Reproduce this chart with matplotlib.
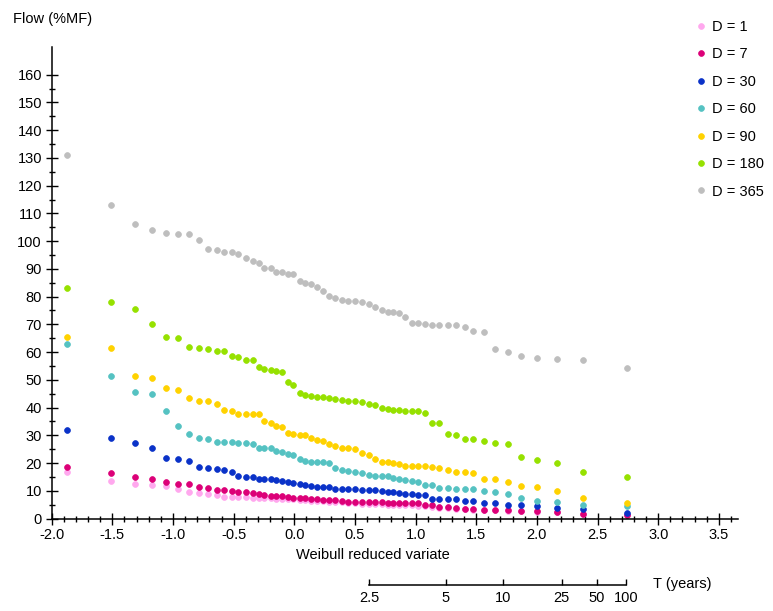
import numpy as np
import matplotlib
matplotlib.use('Agg')
import matplotlib.pyplot as plt
from matplotlib.ticker import FixedLocator

plt.rcParams['font.family'] = ['Liberation Sans', 'DejaVu Sans']
plt.rcParams['font.size'] = 10.5

# Weibull reduced variate of each ranked year (same plotting positions for all durations)
variate = [-1.874, -1.515, -1.317, -1.176, -1.058, -0.955, -0.864, -0.783, -0.709, -0.641,
           -0.577, -0.516, -0.460, -0.398, -0.343, -0.295, -0.247, -0.196, -0.148, -0.101,
           -0.056, -0.011, 0.043, 0.088, 0.135, 0.185, 0.239, 0.286, 0.336, 0.391,
           0.445, 0.500, 0.556, 0.612, 0.667, 0.719, 0.770, 0.816, 0.866, 0.913,
           0.968, 1.017, 1.078, 1.139, 1.197, 1.267, 1.337, 1.407, 1.477, 1.564,
           1.655, 1.758, 1.865, 1.997, 2.162, 2.383, 2.740]

# flow as % of mean flow, one list per duration D (days)
flow_d1 = [16.8, 13.6, 12.6, 12.1, 11.7, 10.5, 9.4, 9.1, 8.8, 8.3,
           7.9, 7.8, 7.7, 7.6, 7.5, 7.4, 7.3, 7.3, 7.2, 7.1,
           7.0, 6.9, 6.8, 6.6, 6.4, 6.3, 6.2, 6.1, 6.0, 5.8,
           5.6, 5.5, 5.3, 5.2, 5.2, 5.1, 5.0, 5.0, 4.9, 4.8,
           4.7, 4.6, 4.4, 4.2, 3.9, 3.7, 3.5, 3.3, 3.2, 3.0,
           2.9, 2.8, 2.6, 2.5, 2.2, 1.5, 1.2]
flow_d7 = [18.6, 16.5, 15.0, 14.2, 13.2, 12.3, 12.3, 11.2, 10.9, 10.4,
           10.3, 9.9, 9.6, 9.4, 9.1, 8.8, 8.5, 8.2, 8.1, 8.1,
           7.6, 7.5, 7.3, 7.3, 6.9, 6.9, 6.7, 6.7, 6.7, 6.4,
           6.0, 6.0, 5.8, 5.8, 5.8, 5.8, 5.7, 5.7, 5.7, 5.5,
           5.5, 5.5, 4.9, 4.7, 4.2, 4.0, 3.7, 3.4, 3.4, 3.1,
           3.1, 3.1, 2.7, 2.6, 2.4, 1.6, 1.3]
flow_d30 = [31.8, 29.2, 27.4, 25.5, 21.8, 21.3, 20.7, 18.6, 18.1, 17.7,
            17.4, 16.9, 15.4, 14.9, 14.8, 14.4, 14.2, 14.1, 13.8, 13.7,
            13.0, 12.8, 12.3, 12.1, 11.6, 11.3, 11.2, 11.2, 10.8, 10.6,
            10.5, 10.5, 10.4, 10.3, 10.1, 9.9, 9.6, 9.4, 9.1, 8.8,
            8.7, 8.6, 8.5, 7.2, 6.9, 6.9, 6.9, 6.3, 6.3, 5.5,
            5.5, 4.9, 4.9, 4.5, 3.7, 3.3, 2.1]
flow_d60 = [63.0, 51.3, 45.5, 44.9, 38.7, 33.3, 30.6, 29.2, 28.6, 27.6,
            27.5, 27.5, 27.4, 27.1, 26.7, 25.5, 25.5, 25.5, 24.3, 24.0,
            23.4, 22.8, 21.5, 20.8, 20.4, 20.4, 20.2, 20.0, 18.3, 17.5,
            17.2, 16.8, 16.5, 15.6, 15.4, 15.4, 15.3, 14.7, 14.2, 13.8,
            13.6, 13.0, 12.2, 12.1, 11.1, 11.1, 10.5, 10.5, 10.5, 10.0,
            9.4, 8.7, 7.5, 6.4, 5.9, 4.9, 4.5]
flow_d90 = [65.6, 61.6, 51.3, 50.6, 47.1, 46.5, 43.6, 42.4, 42.4, 41.2,
            39.2, 38.7, 37.8, 37.6, 37.6, 37.6, 35.1, 34.5, 33.5, 32.9,
            30.8, 30.4, 30.0, 30.0, 29.2, 28.2, 27.9, 26.8, 26.1, 25.5,
            25.5, 25.0, 23.5, 22.8, 21.3, 20.4, 20.2, 19.9, 19.6, 19.0,
            19.0, 19.0, 18.9, 18.6, 18.1, 17.4, 16.8, 16.6, 16.5, 14.2,
            14.2, 13.2, 11.7, 11.2, 10.0, 7.5, 5.5]
flow_d180 = [83.0, 78.2, 75.5, 70.3, 65.6, 65.1, 62.0, 61.3, 61.2, 60.3,
             60.3, 58.7, 58.1, 57.1, 57.0, 54.6, 54.0, 53.4, 53.1, 53.0,
             49.2, 48.3, 45.2, 44.4, 44.2, 43.8, 43.8, 43.6, 43.2, 42.9,
             42.3, 42.3, 42.0, 41.4, 40.8, 39.9, 39.6, 39.3, 39.0, 38.7,
             38.7, 38.7, 38.1, 34.5, 34.5, 30.6, 30.0, 28.8, 28.5, 28.0,
             27.4, 26.9, 22.2, 21.1, 20.1, 16.8, 14.8]
flow_d365 = [131.0, 113.1, 106.2, 104.0, 102.9, 102.4, 102.4, 100.4, 97.2, 96.8,
             96.2, 96.0, 95.5, 94.0, 93.0, 92.2, 90.4, 90.4, 88.8, 88.8,
             88.2, 88.0, 85.6, 85.0, 84.6, 83.6, 81.9, 80.4, 79.6, 78.8,
             78.6, 78.6, 78.0, 77.2, 76.2, 75.0, 74.6, 74.4, 74.2, 72.6,
             70.6, 70.4, 70.2, 69.6, 69.6, 69.6, 69.6, 69.0, 67.6, 67.1,
             61.2, 59.9, 58.6, 57.8, 57.6, 57.0, 54.4]

labels = ['D = 1', 'D = 7', 'D = 30', 'D = 60', 'D = 90', 'D = 180', 'D = 365']
series = [flow_d1, flow_d7, flow_d30, flow_d60, flow_d90, flow_d180, flow_d365]
colors = ['#ffa8ee', '#dc0078', '#0a32c8', '#55c2c2', '#ffd200', '#96e100', '#bebebe']

# return period scale under the variate axis
t_labels = ['2.5', '5', '10', '25', '50', '100']
t_pos = [0.616, 1.248, 1.721, 2.204, 2.495, 2.735]

W, H = 773, 611
fig = plt.figure(figsize=(W / 100, H / 100), dpi=100)
ax = fig.add_axes([51.7 / W, 92.5 / H, 686.3 / W, 471.5 / H])

for flows, lab, col in zip(series, labels, colors):
    ax.plot(variate, flows, 'o', ms=4.2, color=col, mec=col, mew=0.5, label=lab)

ax.set_xlim(-2.0, 3.658)
ax.set_ylim(0, 170)
xt = np.arange(-2.0, 3.51, 0.5)
ax.set_xticks(xt)
ax.set_xticklabels([f'{v:.1f}' for v in xt])
ax.xaxis.set_minor_locator(FixedLocator(np.arange(-1.9, 3.65, 0.1)))
ax.set_yticks(range(0, 161, 10))
ax.yaxis.set_minor_locator(FixedLocator(range(5, 160, 10)))
ax.tick_params(which='major', direction='inout', length=8, width=1, pad=3)
ax.tick_params(which='minor', direction='inout', length=4.5, width=1)
for side in ['top', 'right']:
    ax.spines[side].set_visible(False)
for side in ['left', 'bottom']:
    ax.spines[side].set_linewidth(1.1)

ax.legend(loc='upper left', bbox_to_anchor=(697 / W, 1 - 20 / H),
          bbox_transform=fig.transFigure, frameon=False, handlelength=0.6,
          handletextpad=0.45, labelspacing=0.92, borderpad=0, borderaxespad=0)

fig.text(13 / W, 1 - 18.5 / H, 'Flow (%MF)', va='center', ha='left')
fig.text(373 / W, 1 - 555 / H, 'Weibull reduced variate', va='center', ha='center')

# T (years) scale
axt = fig.add_axes([51.7 / W, (H - 585) / H, 686.3 / W, 0.001])
axt.set_xlim(ax.get_xlim())
axt.patch.set_visible(False)
for side in ['top', 'right', 'left']:
    axt.spines[side].set_visible(False)
axt.spines['bottom'].set_bounds(t_pos[0], t_pos[-1])
axt.spines['bottom'].set_linewidth(1.1)
axt.set_yticks([])
axt.set_xticks(t_pos)
axt.set_xticklabels(t_labels)
axt.tick_params(axis='x', direction='in', length=4, width=1, pad=4)
fig.text(653 / W, 1 - 584 / H, 'T (years)', va='center', ha='left')

fig.savefig('out.png', dpi=100)
